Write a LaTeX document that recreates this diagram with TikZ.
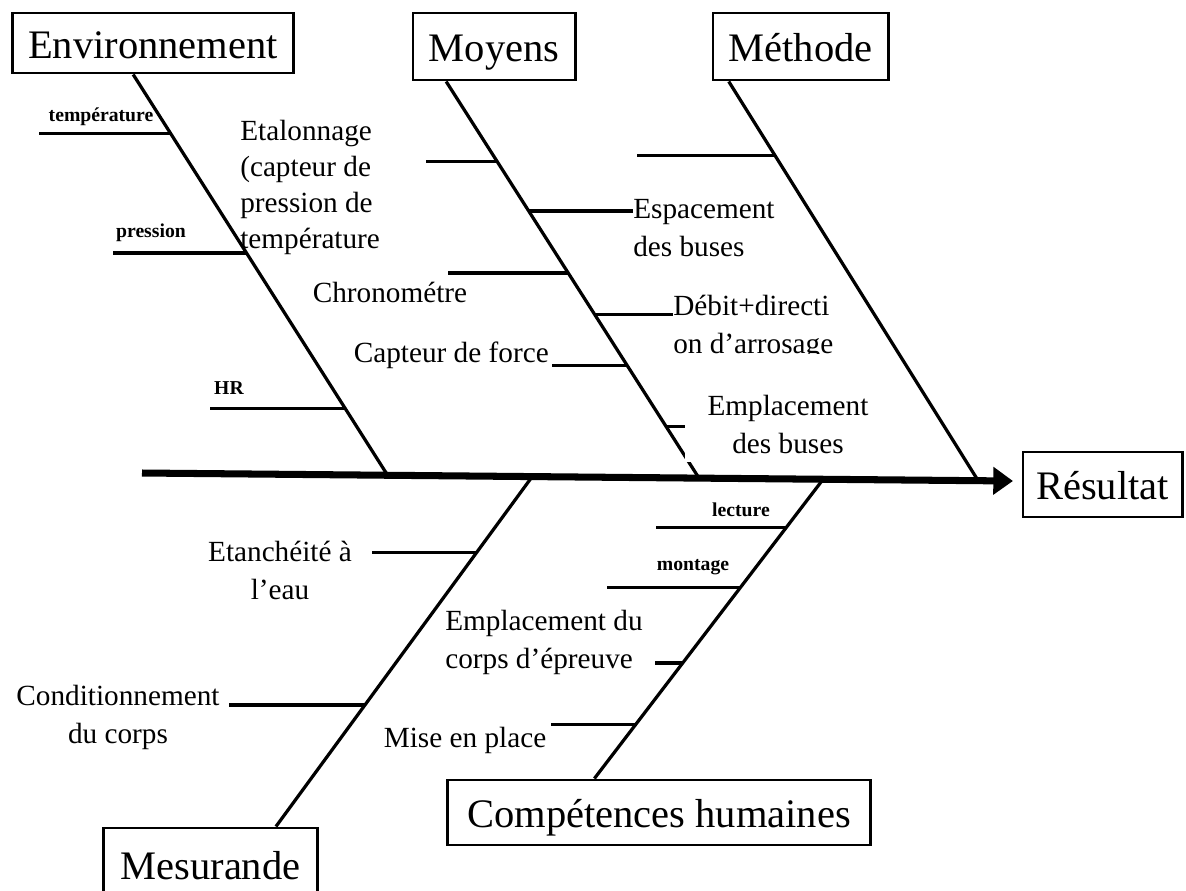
\documentclass[tikz,border=0pt]{standalone}
\usepackage{fontspec}
\setmainfont{Liberation Serif}
\usetikzlibrary{arrows.meta,calc}
\newcommand{\titlesize}{\fontsize{28.8}{32}\selectfont}
\newcommand{\causesize}{\fontsize{20.8}{27}\selectfont}
\newcommand{\subsize}{\fontsize{14}{16}\selectfont\bfseries}

\begin{document}
\begin{tikzpicture}[x=0.025cm, y=-0.025cm,
            cat/.style={draw, line width=2.1pt, font=\titlesize, inner sep=0pt,
                text height=22pt, text depth=0pt},
            cause/.style={font=\causesize, inner sep=0pt},
            sub/.style={font=\subsize, inner sep=0pt},
            bone/.style={line width=2.3pt},
            twig/.style={line width=2.4pt}]
\useasboundingbox (0,0) rectangle (1186,890);
\clip (0,0) rectangle (1186,890);

% categories
\node[cat, minimum width=7cm, minimum height=1.5cm] (env) at (153,43) {Environnement};
\node[cat, minimum width=4.05cm, minimum height=1.675cm] (moy) at (494,46.5) {Moyens};
\node[cat, minimum width=4.375cm, minimum height=1.675cm] (meth) at (800.5,46.5) {Méthode};
\node[cat, minimum width=3.975cm, minimum height=1.625cm] (res) at (1102.5,484.5) {Résultat};
\node[cat, minimum width=5.325cm, minimum height=1.8cm] (mes) at (210.5,864) {Mesurande};
\node[cat, minimum width=10.55cm, minimum height=1.625cm] (comp) at (659,812.5) {Compétences humaines};

% main line
\coordinate (tail) at (142,473);
\coordinate (head) at (1013,481);
\draw[line width=5pt, -{Triangle[length=14pt,width=19pt]}] (tail) -- (head);
\path (tail) -- (head) coordinate[pos=0.282] (envbot) coordinate[pos=0.6395] (moybot)
    coordinate[pos=0.96] (methbot) coordinate[pos=0.448] (mestop) coordinate[pos=0.782] (comptop);

% bones
\draw[bone] ($(env.south west)!0.43!(env.south east)$) coordinate (envtop) -- (envbot);
\draw[bone] ($(moy.south west)!0.21!(moy.south east)$) coordinate (moytop) -- (moybot);
\draw[bone] ($(meth.south west)!0.097!(meth.south east)$) coordinate (methtop) -- (methbot);
\draw[bone] (mestop) -- ($(mes.north west)!0.803!(mes.north east)$) coordinate (mesbot);
\draw[bone] (comptop) -- ($(comp.north west)!0.348!(comp.north east)$) coordinate (compbot);

\path (envtop) -- (envbot) coordinate[pos=0.1467] (e1) coordinate[pos=0.445] (e2) coordinate[pos=0.833] (e3);
\path (moytop) -- (moybot) coordinate[pos=0.201] (m1) coordinate[pos=0.3266] (m2) coordinate[pos=0.4824] (m3)
    coordinate[pos=0.588] (m4) coordinate[pos=0.716] (m5) coordinate[pos=0.8694] (m6);
\path (methtop) -- (methbot) coordinate[pos=0.1847] (t1);
\path (mestop) -- (mesbot) coordinate[pos=0.2174] (s1) coordinate[pos=0.6528] (s2);
\path (comptop) -- (compbot) coordinate[pos=0.162] (c1) coordinate[pos=0.3615] (c2)
    coordinate[pos=0.6143] (c3) coordinate[pos=0.8205] (c4);

% twigs
\draw[twig] (e1) -- ++(-132,0);
\draw[twig] (e2) -- ++(-133,0);
\draw[twig] (e3) -- ++(-135,0);
\draw[twig] (m1) -- ++(-71,0);
\draw[twig] (m2) -- ++(104,0);
\draw[twig] (m3) -- ++(-120,0);
\draw[twig] (m4) -- ++(78,0);
\draw[twig] (m5) -- ++(-75,0);
\draw[twig] (m6) -- ++(25,0);
\draw[twig] (t1) -- ++(-138,0);
\draw[twig] (s1) -- ++(-104,0);
\draw[twig] (s2) -- ++(-136,0);
\draw[twig] (c1) -- ++(-130,0);
\draw[twig] (c2) -- ++(-133,0);
\draw[twig] (c3) -- ++(-28,0);
\draw[twig] (c4) -- ++(-84,0);

% labels
\node[sub] (temp) at (101,117) {température};
\node[sub] (pres) at (151,233) {pression};
\node[sub] (hr) at (229,388) {HR};
\node[sub] (lect) at (741,510) {lecture};
\node[sub] (mont) at (693,567) {montage};

\node[cause, align=left, anchor=west, font=\fontsize{20.8}{25.6}\selectfont] (etal) at (240,187.5)
    {Etalonnage\\(capteur de\\pression de\\température};
\node[cause, align=left, anchor=west] (esp) at (633,228.5) {Espacement\\des buses};
\node[cause] (chrono) at (390,292) {Chronométre};
\begin{scope}
\clip (660,290) rectangle (860,353);
\node[cause, align=left, anchor=west] (debit) at (673,327) {Débit+directi\\on d’arrosage};
\end{scope}
\node[cause, anchor=east] (capt) at (549,355) {Capteur de force};
\node[cause, align=center, fill=white, inner xsep=0.575cm, inner ysep=0.2cm] (empl) at (788,424.5)
    {Emplacement\\des buses};
\node[cause, align=center] (etan) at (280,570.5) {Etanchéité à\\l’eau};
\node[cause, align=center] (cond) at (118,717.5) {Conditionnement\\du corps};
\node[cause, align=left, anchor=west] (corps) at (445,642.5) {Emplacement du\\corps d’épreuve};
\node[cause] (mise) at (465,740) {Mise en place};

\end{tikzpicture}
\end{document}
